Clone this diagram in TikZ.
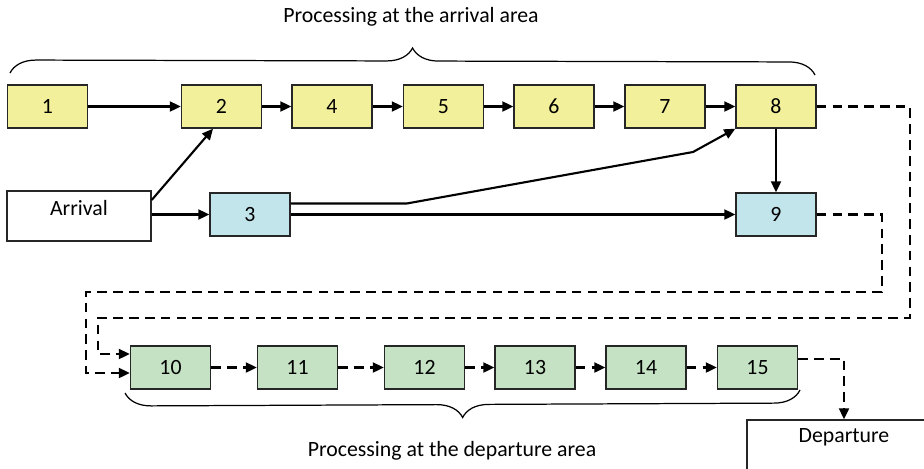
\documentclass[tikz,border=0pt]{standalone}
\usepackage{fontspec}
\setmainfont{Carlito}
\usetikzlibrary{arrows.meta,decorations.pathreplacing}
\definecolor{StageYellow}{HTML}{F2F09A}
\definecolor{StageBlue}{HTML}{C2E5EC}
\definecolor{StageGreen}{HTML}{C5E3C4}
\definecolor{BoxLine}{HTML}{262626}

\begin{document}
\begin{tikzpicture}[x=0.2mm, y=-0.2mm, font=\fontsize{12.4}{15}\selectfont,
  stage/.style={draw=BoxLine, line width=0.8pt, minimum width=16mm, minimum height=8.6mm, inner sep=0pt},
  endbox/.style={draw=BoxLine, line width=0.8pt, inner sep=0pt},
  flow/.style={line width=1.2pt, -{Triangle[length=2.2mm,width=2mm]}},
  queue/.style={flow, dash pattern=on 5.5pt off 3.5pt},
  curly/.style={line width=0.7pt, decorate, decoration={brace, amplitude=5.2mm}}]
  \useasboundingbox (0,0) rectangle (924,468);
  \clip (0,0) rectangle (924,468);
  \path node (Tarr) at (411,17)  {Processing at the arrival area}
        node (Tdep) at (452,451) {Processing at the departure area};
  \path node (Arr) at (79,216)  [endbox, minimum width=28.8mm, minimum height=10mm,
                                 label={[anchor=center,yshift=-3.6mm]north:Arrival}] {}
        node (Dep) at (844,450) [endbox, minimum width=38.8mm, minimum height=12mm,
                                 label={[anchor=center,yshift=-3.6mm]north:Departure}] {};
  \path node (B1) at (47.5,106.5) [stage, fill=StageYellow] {1}
        node (B2) at (221.5,106.5) [stage, fill=StageYellow] {2}
        node (B4) at (332,106.5)   [stage, fill=StageYellow] {4}
        node (B5) at (443.5,106.5) [stage, fill=StageYellow] {5}
        node (B6) at (554,106.5)   [stage, fill=StageYellow] {6}
        node (B7) at (665,106.5)   [stage, fill=StageYellow] {7}
        node (B8) at (776,106.5)   [stage, fill=StageYellow] {8}
        node (B3) at (250,214.5)   [stage, fill=StageBlue] {3}
        node (B9) at (776,214.5)   [stage, fill=StageBlue] {9};
  \path node (B10) at (170.5,367.5) [stage, fill=StageGreen] {10}
        node (B11) at (297.5,367.5) [stage, fill=StageGreen] {11}
        node (B12) at (424.5,367.5) [stage, fill=StageGreen] {12}
        node (B13) at (535,367.5)   [stage, fill=StageGreen] {13}
        node (B14) at (646,367.5)   [stage, fill=StageGreen] {14}
        node (B15) at (757.5,367.5) [stage, fill=StageGreen] {15};
  \draw[curly] (10,73) -- (815,75);
  \draw[curly] (800,390) -- (125,393);
  \draw[flow] (B1) -- (B2);
  \draw[flow] (B2) -- (B4);
  \draw[flow] (B4) -- (B5);
  \draw[flow] (B5) -- (B6);
  \draw[flow] (B6) -- (B7);
  \draw[flow] (B7) -- (B8);
  \draw[flow] (B8) -- (B9);
  \draw[flow] ([yshift=3.2mm]Arr.east) -- ([xshift=-1.7mm]B2.south);
  \draw[flow] (Arr.east |- B3.west) -- (B3.west);
  \draw[flow] ([yshift=2.2mm]B3.east) -- ++(116,0) -- (693,152) -- (B8.south west);
  \draw[flow] (B3.east) -- (B9.west);
  \draw[queue] (B8.east) -- ++(93,0) |- (98,318) |- ([yshift=2.7mm]B10.west);
  \draw[queue] (B9.east) -- ++(65,0) |- (86,292) |- ([yshift=-1.1mm]B10.west);
  \draw[queue] (B10) -- (B11);
  \draw[queue] (B11) -- (B12);
  \draw[queue] (B12) -- (B13);
  \draw[queue] (B13) -- (B14);
  \draw[queue] (B14) -- (B15);
  \draw[queue] ([yshift=1.7mm]B15.east) -| (Dep.north);
\end{tikzpicture}
\end{document}
